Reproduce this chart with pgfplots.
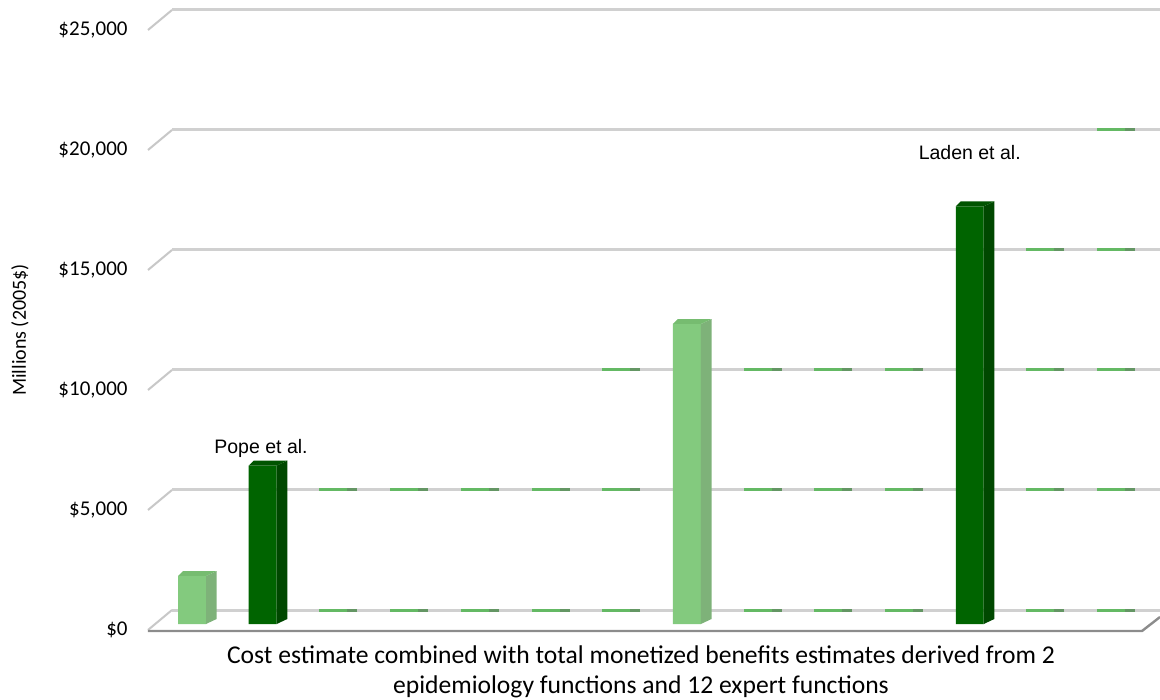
\documentclass[border=0pt]{standalone}
\usepackage{fontspec}
\setmainfont{Carlito}
\newfontfamily\arial{Liberation Sans}
\usepackage{pgfplots}
\pgfplotsset{compat=1.18}
\usepackage{pgfplotstable}

\definecolor{gridgray}{RGB}{208,208,208}
\definecolor{diaggray}{RGB}{200,200,200}
\definecolor{floorgray}{RGB}{140,140,140}
\definecolor{lightfront}{RGB}{131,202,126}
\definecolor{lightside}{RGB}{126,178,121}
\definecolor{lighttop}{RGB}{118,188,112}
\definecolor{darkfront}{RGB}{0,100,0}
\definecolor{darkside}{RGB}{0,72,0}
\definecolor{darktop}{RGB}{0,84,0}
\definecolor{tintlight}{RGB}{100,185,100}
\definecolor{tintdark}{RGB}{100,150,100}

% gridline segments tinted by the (transparent) columns
\pgfplotstableread{
col val
3 0
4 0
5 0
6 0
7 0
9 0
10 0
11 0
13 0
14 0
3 5000
4 5000
5 5000
6 5000
7 5000
9 5000
10 5000
11 5000
13 5000
14 5000
7 10000
9 10000
10 10000
11 10000
13 10000
14 10000
13 15000
14 15000
14 20000
}\tint

\begin{document}
\begin{tikzpicture}
\useasboundingbox (-86pt,-38pt) rectangle (494pt,312pt);
\begin{axis}[
  at={(0,0)}, anchor=south west,
  scale only axis, width=494pt, height=300pt,
  xmin=0.7171, xmax=14.691, ymin=0, ymax=25000,
  axis line style={draw=none},
  xtick=\empty,
  ytick={0,5000,10000,15000,20000,25000},
  yticklabels={\$0,{\$5,000},{\$10,000},{\$15,000},{\$20,000},{\$25,000}},
  scaled y ticks=false,
  major tick length=0pt,
  yticklabel style={anchor=east, inner sep=0pt, xshift=-22pt, yshift=-3pt, font=\fontsize{10.5}{12}\selectfont},
  clip=false,
]
% back-wall gridlines and their left diagonals
\pgfplotsinvokeforeach{0,5000,10000,15000,20000,25000}{
  \draw[diaggray, line width=1pt] ([shift={(-12pt,-3pt)}]axis cs:0.7171,#1) -- ([shift={(0pt,7pt)}]axis cs:0.7171,#1);
  \draw[gridgray, line width=1.5pt] ([yshift=7pt]axis cs:0.7171,#1) -- ([yshift=7pt]axis cs:14.691,#1);
}
% floor front edge
\draw[floorgray, line width=1.2pt] ([shift={(-12pt,-3.5pt)}]axis cs:0.7171,0) -- ([shift={(-9pt,-3.5pt)}]axis cs:14.691,0) -- ([shift={(0pt,3.5pt)}]axis cs:14.691,0);

% tinted gridline segments
\addplot[only marks, mark=-, mark size=7pt, mark options={draw=tintlight, line width=1.5pt},
  y filter/.expression={y+583.33}] table[x=col, y=val]{\tint};
\addplot[only marks, mark=-, mark size=2.5pt, mark options={draw=tintdark, line width=1.5pt},
  x filter/.expression={x+0.269}, y filter/.expression={y+583.33}] table[x=col, y=val]{\tint};

% light green columns
\addplot[ybar, bar width=0.396, fill=lightfront, draw=none] coordinates {(1,2000) (8,12500)};
\addplot[fill=lightside, draw=none] coordinates {(1.198,0) (1.348,208) (1.348,2208) (1.198,2000)} -- cycle;
\addplot[fill=lighttop, draw=none] coordinates {(0.802,2000) (1.198,2000) (1.348,2208) (0.873,2208)} -- cycle;
\addplot[fill=lightside, draw=none] coordinates {(8.198,0) (8.348,208) (8.348,12708) (8.198,12500)} -- cycle;
\addplot[fill=lighttop, draw=none] coordinates {(7.802,12500) (8.198,12500) (8.348,12708) (7.873,12708)} -- cycle;

% dark green columns
\addplot[ybar, bar width=0.396, fill=darkfront, draw=none] coordinates {(2,6600) (12,17400)};
\addplot[fill=darkside, draw=none] coordinates {(2.198,0) (2.348,208) (2.348,6808) (2.198,6600)} -- cycle;
\addplot[fill=darktop, draw=none] coordinates {(1.802,6600) (2.198,6600) (2.348,6808) (1.873,6808)} -- cycle;
\addplot[fill=darkside, draw=none] coordinates {(12.198,0) (12.348,208) (12.348,17608) (12.198,17400)} -- cycle;
\addplot[fill=darktop, draw=none] coordinates {(11.802,17400) (12.198,17400) (12.348,17608) (11.873,17608)} -- cycle;

% annotations
\node[font=\arial\fontsize{9.75}{11}\selectfont] at (axis cs:1.976,7333) {Pope et al.};
\node[font=\arial\fontsize{9.75}{11}\selectfont] at (axis cs:12,19625) {Laden et al.};
\node[rotate=90, font=\fontsize{10}{12}\selectfont] at ([xshift=-76pt]axis cs:0.7171,12250) {Millions (2005\$)};
\node[align=center, font=\fontsize{12.8}{15}\selectfont] at ([yshift=-24pt]axis cs:7.35,0)
  {Cost estimate combined with total monetized benefits estimates derived from 2\\epidemiology functions and 12 expert functions};
\end{axis}
\end{tikzpicture}
\end{document}
